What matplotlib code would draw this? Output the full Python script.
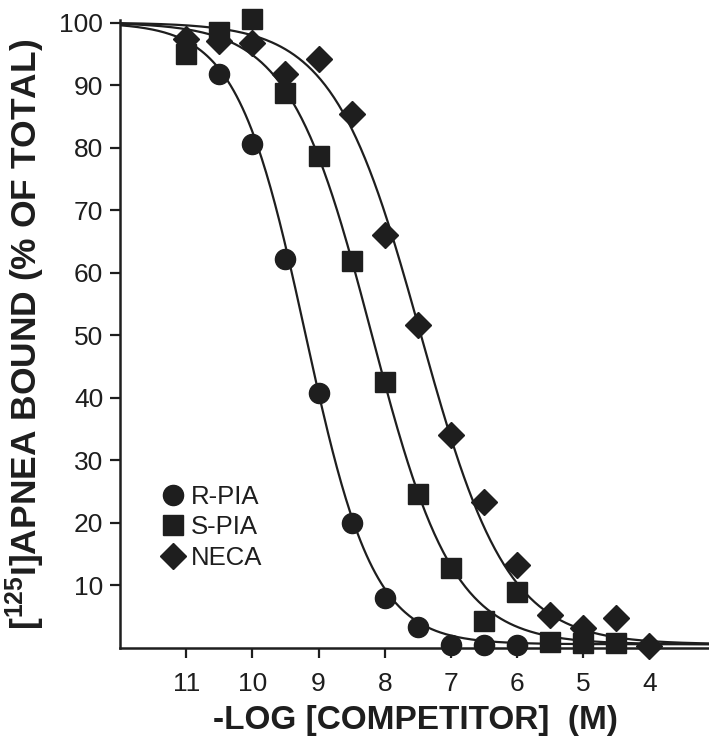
import numpy as np
import matplotlib
matplotlib.use('Agg')
from matplotlib import pyplot as plt

plt.rcParams['font.family'] = ['Liberation Sans', 'DejaVu Sans']
plt.rcParams['mathtext.default'] = 'regular'

# -log [competitor] (M) and % bound
rpia_x = [10.5, 10.0, 9.5, 9.0, 8.5, 8.0, 7.5, 7.0, 6.5, 6.0]
rpia_y = [91.7, 80.6, 62.2, 40.8, 20.0, 8.0, 3.4, 0.5, 0.5, 0.5]

spia_x = [11.0, 10.5, 10.0, 9.5, 9.0, 8.5, 8.0, 7.5, 7.0, 6.5, 6.0, 5.5, 5.0, 4.5]
spia_y = [94.9, 98.5, 100.6, 88.8, 78.6, 61.8, 42.6, 24.6, 12.8, 4.3, 9.0, 1.0, 0.8, 0.8]

neca_x = [11.0, 10.5, 10.0, 9.5, 9.0, 8.5, 8.0, 7.5, 7.0, 6.5, 6.0, 5.5, 5.0, 4.5, 4.0]
neca_y = [97.3, 97.0, 96.8, 91.8, 94.1, 85.3, 66.1, 51.7, 34.1, 23.4, 13.3, 5.3, 3.2, 4.8, 0.3]

# fitted curve parameters (pIC50, Hill slope)
names = ['R-PIA', 'S-PIA', 'NECA']
p50 = [9.2, 8.2, 7.46]
hill = [0.84, 0.7, 0.66]
bottom = 0.6

col = '#1e1e1e'
fig = plt.figure(figsize=(7.09, 7.42), dpi=100)
ax = fig.add_axes([120/709, 1-648/742, 1-120/709, (648-20)/742])

xs = np.linspace(12, 3.1, 400)
for c, n in zip(p50, hill):
    ys = bottom + (100-bottom)/(1+10**(n*(c-xs)))
    ax.plot(xs, ys, color=col, lw=1.6, zorder=2)

mk = dict(color=col, ls='none', clip_on=False, zorder=3)
h1, = ax.plot(rpia_x, rpia_y, marker='o', ms=14.5, **mk)
h2, = ax.plot(spia_x, spia_y, marker='s', ms=14, **mk)
h3, = ax.plot(neca_x, neca_y, marker='D', ms=13, **mk)

ax.set_xlim(12, 3.1)
ax.set_ylim(0, 100.4)
ax.set_xticks([11, 10, 9, 8, 7, 6, 5, 4])
ax.set_yticks([10, 20, 30, 40, 50, 60, 70, 80, 90, 100])
ax.spines['top'].set_visible(False)
ax.spines['right'].set_visible(False)
for s in ['left', 'bottom']:
    ax.spines[s].set_linewidth(1.8)
    ax.spines[s].set_color(col)
ax.tick_params(direction='out', length=7, width=1.6, color=col,
               labelsize=19, labelcolor=col)
ax.tick_params(axis='y', pad=5)
ax.tick_params(axis='x', pad=10)

leg = ax.legend([h1, h2, h3], names, loc='upper left',
                bbox_to_anchor=(0.055, 0.276), frameon=False, fontsize=18.5,
                handlelength=0.8, handletextpad=0.3, labelspacing=0.25,
                borderaxespad=0)
for t in leg.get_texts():
    t.set_color(col)

fig.text(25/709, 1-334/742, '[$^{125}$I]APNEA BOUND (% OF TOTAL)',
         rotation=90, ha='center', va='center', fontsize=25.5,
         fontweight='bold', color=col)
fig.text(415/709, 1-721/742, '-LOG [COMPETITOR]  (M)', ha='center',
         va='center', fontsize=24, fontweight='bold', color=col)

fig.savefig('out.png', dpi=100)
